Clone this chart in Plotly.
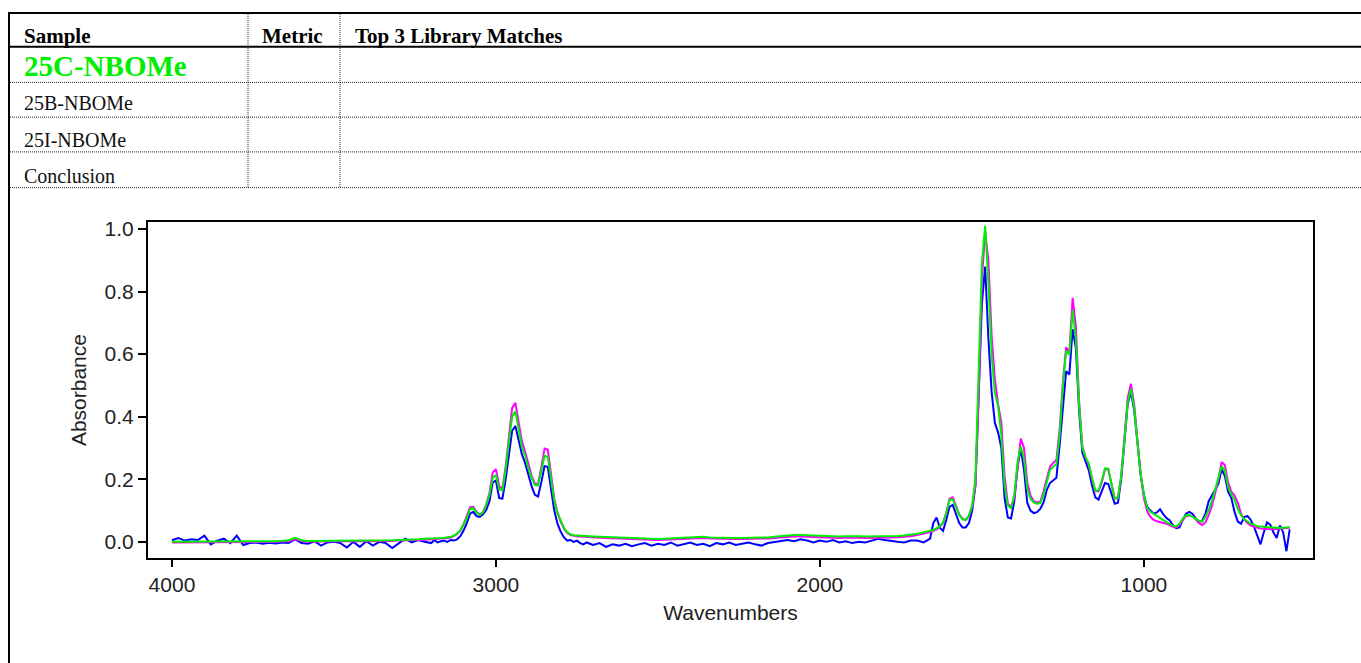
import plotly.graph_objects as go

# ---------------- data ----------------
# wavenumber sampling (cm-1), four segments
wn_a = list(range(4000, 3200, -20))   # 40 points
wn_b = list(range(3200, 2700, -10))   # 50 points
wn_c = list(range(2700, 1700, -20))   # 50 points
wn_d = list(range(1700, 549, -10))    # 116 points
wavenumbers = wn_a + wn_b + wn_c + wn_d

green_a = [0.000, 0.000, 0.001, 0.001, 0.001, 0.001, 0.001, 0.002, 0.002, 0.002,
           0.002, 0.002, 0.002, 0.002, 0.002, 0.002, 0.002, 0.003, 0.005, 0.013,
           0.005, 0.003, 0.003, 0.003, 0.003, 0.003, 0.004, 0.004, 0.004, 0.004,
           0.005, 0.005, 0.005, 0.005, 0.005, 0.006, 0.006, 0.007, 0.008, 0.010]
green_b = [0.010, 0.011, 0.012, 0.012, 0.013, 0.014, 0.016, 0.020, 0.026, 0.036,
           0.054, 0.076, 0.104, 0.108, 0.094, 0.086, 0.094, 0.118, 0.150, 0.205,
           0.212, 0.168, 0.164, 0.230, 0.320, 0.400, 0.417, 0.360, 0.305, 0.275,
           0.235, 0.205, 0.182, 0.180, 0.225, 0.275, 0.272, 0.200, 0.132, 0.092,
           0.066, 0.044, 0.030, 0.024, 0.021, 0.020, 0.019, 0.018, 0.018, 0.017]
green_c = [0.017, 0.016, 0.015, 0.014, 0.013, 0.012, 0.011, 0.010, 0.010, 0.009,
           0.009, 0.010, 0.011, 0.012, 0.014, 0.016, 0.017, 0.016, 0.014, 0.013,
           0.013, 0.012, 0.012, 0.012, 0.012, 0.012, 0.013, 0.014, 0.016, 0.018,
           0.021, 0.022, 0.022, 0.021, 0.020, 0.020, 0.019, 0.018, 0.017, 0.018,
           0.019, 0.018, 0.017, 0.017, 0.018, 0.018, 0.018, 0.019, 0.020, 0.022]
green_d = [0.026, 0.028, 0.030, 0.032, 0.035, 0.038, 0.043, 0.050, 0.062, 0.092,
           0.134, 0.136, 0.112, 0.086, 0.072, 0.070, 0.084, 0.118, 0.200, 0.520,
           0.890, 1.010, 0.830, 0.600, 0.475, 0.435, 0.340, 0.180, 0.116, 0.108,
           0.150, 0.255, 0.305, 0.265, 0.170, 0.138, 0.125, 0.122, 0.124, 0.150,
           0.192, 0.229, 0.240, 0.248, 0.340, 0.500, 0.610, 0.598, 0.740, 0.650,
           0.440, 0.300, 0.270, 0.250, 0.205, 0.163, 0.165, 0.195, 0.235, 0.234,
           0.185, 0.137, 0.142, 0.210, 0.325, 0.445, 0.489, 0.430, 0.318, 0.215,
           0.150, 0.108, 0.096, 0.089, 0.083, 0.076, 0.070, 0.063, 0.057, 0.051,
           0.049, 0.058, 0.074, 0.085, 0.086, 0.081, 0.074, 0.068, 0.064, 0.080,
           0.102, 0.130, 0.165, 0.200, 0.242, 0.228, 0.175, 0.152, 0.134, 0.105,
           0.085, 0.072, 0.065, 0.058, 0.054, 0.050, 0.049, 0.048, 0.046, 0.045,
           0.044, 0.044, 0.044, 0.045, 0.046, 0.047]

magenta_a = [-0.002, -0.002, -0.001, -0.001, -0.001, -0.001, -0.001, 0.000, 0.000, 0.000,
             0.000, 0.000, 0.000, 0.000, 0.000, 0.000, 0.000, 0.001, 0.002, 0.008,
             0.003, 0.001, 0.001, 0.001, 0.001, 0.001, 0.002, 0.002, 0.002, 0.002,
             0.003, 0.003, 0.003, 0.003, 0.003, 0.004, 0.004, 0.005, 0.006, 0.007]
magenta_b = [0.008, 0.009, 0.010, 0.010, 0.011, 0.012, 0.014, 0.018, 0.025, 0.036,
             0.056, 0.080, 0.110, 0.112, 0.096, 0.087, 0.095, 0.120, 0.156, 0.222,
             0.232, 0.178, 0.170, 0.240, 0.340, 0.428, 0.444, 0.385, 0.322, 0.288,
             0.246, 0.212, 0.186, 0.186, 0.238, 0.298, 0.295, 0.215, 0.138, 0.094,
             0.064, 0.042, 0.028, 0.022, 0.019, 0.018, 0.017, 0.016, 0.016, 0.015]
magenta_c = [0.014, 0.013, 0.012, 0.011, 0.010, 0.009, 0.008, 0.007, 0.007, 0.006,
             0.006, 0.007, 0.008, 0.009, 0.011, 0.012, 0.013, 0.012, 0.011, 0.010,
             0.010, 0.009, 0.009, 0.009, 0.009, 0.009, 0.010, 0.011, 0.012, 0.014,
             0.016, 0.017, 0.017, 0.016, 0.015, 0.015, 0.014, 0.013, 0.012, 0.013,
             0.014, 0.013, 0.012, 0.012, 0.013, 0.013, 0.014, 0.015, 0.016, 0.018]
magenta_d = [0.022, 0.024, 0.026, 0.028, 0.031, 0.035, 0.040, 0.048, 0.060, 0.092,
             0.138, 0.142, 0.115, 0.088, 0.074, 0.070, 0.082, 0.112, 0.180, 0.460,
             0.840, 0.990, 0.900, 0.660, 0.520, 0.440, 0.380, 0.210, 0.122, 0.112,
             0.140, 0.240, 0.330, 0.300, 0.190, 0.148, 0.130, 0.126, 0.128, 0.160,
             0.205, 0.240, 0.252, 0.262, 0.360, 0.510, 0.622, 0.605, 0.780, 0.690,
             0.450, 0.305, 0.270, 0.245, 0.200, 0.162, 0.162, 0.190, 0.232, 0.232,
             0.185, 0.138, 0.142, 0.210, 0.335, 0.460, 0.505, 0.440, 0.325, 0.215,
             0.140, 0.098, 0.080, 0.070, 0.066, 0.064, 0.062, 0.058, 0.053, 0.048,
             0.046, 0.054, 0.070, 0.082, 0.085, 0.082, 0.072, 0.060, 0.054, 0.062,
             0.085, 0.115, 0.155, 0.198, 0.255, 0.245, 0.190, 0.160, 0.148, 0.125,
             0.090, 0.070, 0.060, 0.052, 0.048, 0.045, 0.043, 0.042, 0.041, 0.040,
             0.040, 0.041, 0.042, 0.043, 0.044, 0.045]

blue_a = [0.005, 0.012, 0.004, 0.008, 0.006, 0.020, -0.008, 0.004, 0.010, -0.004,
          0.020, -0.010, -0.004, -0.002, -0.006, -0.003, -0.005, -0.002, -0.004, 0.008,
          -0.004, -0.006, 0.002, -0.012, -0.002, 0.000, -0.004, -0.018, 0.000, -0.016,
          0.002, -0.012, 0.000, -0.004, -0.020, -0.004, 0.010, -0.002, 0.006, 0.000]
blue_b = [-0.004, 0.006, -0.002, 0.002, 0.004, 0.000, 0.006, 0.004, 0.008, 0.018,
          0.036, 0.060, 0.090, 0.096, 0.082, 0.080, 0.088, 0.102, 0.130, 0.190,
          0.196, 0.140, 0.138, 0.200, 0.285, 0.355, 0.370, 0.320, 0.280, 0.252,
          0.215, 0.178, 0.150, 0.145, 0.190, 0.242, 0.240, 0.170, 0.100, 0.058,
          0.032, 0.014, 0.004, 0.006, 0.000, 0.004, -0.004, -0.008, -0.002, -0.006]
blue_c = [-0.010, -0.004, -0.016, -0.008, -0.012, -0.006, -0.014, -0.008, -0.004, -0.012,
          -0.006, -0.010, -0.002, -0.012, -0.006, -0.002, -0.010, -0.006, -0.014, -0.004,
          -0.008, -0.002, -0.010, -0.006, -0.002, -0.008, -0.012, -0.004, 0.000, 0.004,
          0.006, 0.002, 0.008, 0.004, -0.002, 0.004, 0.000, 0.006, -0.002, 0.002,
          -0.004, 0.000, -0.002, 0.004, 0.010, 0.006, 0.002, 0.000, -0.002, 0.004]
blue_d = [0.004, 0.000, -0.002, 0.004, 0.010, 0.060, 0.078, 0.045, 0.035, 0.070,
          0.112, 0.118, 0.090, 0.060, 0.046, 0.046, 0.060, 0.100, 0.180, 0.440,
          0.760, 0.880, 0.650, 0.480, 0.380, 0.350, 0.300, 0.140, 0.078, 0.075,
          0.130, 0.240, 0.298, 0.230, 0.125, 0.100, 0.092, 0.095, 0.105, 0.125,
          0.165, 0.188, 0.198, 0.205, 0.310, 0.440, 0.545, 0.535, 0.680, 0.620,
          0.420, 0.285, 0.255, 0.228, 0.180, 0.142, 0.135, 0.160, 0.188, 0.185,
          0.150, 0.122, 0.125, 0.200, 0.320, 0.440, 0.480, 0.420, 0.320, 0.215,
          0.150, 0.112, 0.100, 0.090, 0.094, 0.104, 0.088, 0.076, 0.068, 0.052,
          0.044, 0.046, 0.070, 0.090, 0.096, 0.090, 0.075, 0.064, 0.068, 0.090,
          0.130, 0.150, 0.165, 0.185, 0.232, 0.210, 0.160, 0.140, 0.095, 0.065,
          0.058, 0.080, 0.082, 0.070, 0.048, 0.020, -0.008, 0.030, 0.062, 0.055,
          0.030, 0.012, 0.052, 0.030, -0.030, 0.040]

blue = blue_a + blue_b + blue_c + blue_d
magenta = magenta_a + magenta_b + magenta_c + magenta_d
green = green_a + green_b + green_c + green_d

x_ticks = [4000, 3000, 2000, 1000]
y_ticks = [0.0, 0.2, 0.4, 0.6, 0.8, 1.0]

table_header = ["Sample", "Metric", "Top 3 Library Matches"]
table_rows = ["25C-NBOMe", "25B-NBOMe", "25I-NBOMe", "Conclusion"]

# ---------------- layout helpers ----------------
W, H = 1361, 663
DY = 4  # page offset compensation


def px(x):
    return x / W


def py(y):
    return 1 - (y - DY) / H


fig = go.Figure()
for vals, col in [(blue, "#0000FF"), (magenta, "#FF00FF"), (green, "#00EE00")]:
    fig.add_trace(go.Scatter(x=wavenumbers, y=vals, mode="lines",
                             line=dict(color=col, width=2), showlegend=False,
                             hoverinfo="skip"))

shapes = []
# thick solid lines
shapes.append(dict(type="line", xref="paper", yref="paper", x0=px(8), x1=px(W + 2),
                   y0=py(12), y1=py(12), line=dict(color="black", width=2)))
shapes.append(dict(type="line", xref="paper", yref="paper", x0=px(8), x1=px(W + 2),
                   y0=py(46), y1=py(46), line=dict(color="black", width=2)))
shapes.append(dict(type="line", xref="paper", yref="paper", x0=px(9), x1=px(9),
                   y0=py(11), y1=py(H + 10), line=dict(color="black", width=2)))
# dotted lines
for yy in [82, 117, 152, 188]:
    shapes.append(dict(type="line", xref="paper", yref="paper", x0=px(10), x1=px(W + 2),
                       y0=py(yy), y1=py(yy),
                       line=dict(color="#222222", width=1, dash="1px,1px")))
for xx in [248, 340]:
    shapes.append(dict(type="line", xref="paper", yref="paper", x0=px(xx), x1=px(xx),
                       y0=py(13), y1=py(188),
                       line=dict(color="#222222", width=1, dash="1px,1px")))

annotations = []
serif = "Liberation Serif, Times New Roman, serif"
for label, xx in zip(table_header, [22, 260, 353]):
    annotations.append(dict(text="<b>%s</b>" % label, xref="paper", yref="paper",
                            x=px(xx), y=py(35), xanchor="left", yanchor="middle",
                            showarrow=False,
                            font=dict(family=serif, size=21, color="black")))
row_y = [65, 103, 140, 176]
for i, (label, yy) in enumerate(zip(table_rows, row_y)):
    if i == 0:
        txt = "<b>%s</b>" % label
        fnt = dict(family=serif, size=29, color="#00EE00")
    else:
        txt = label
        fnt = dict(family=serif, size=20, color="#111111")
    annotations.append(dict(text=txt, xref="paper", yref="paper", x=px(22), y=py(yy),
                            xanchor="left", yanchor="middle", showarrow=False, font=fnt))

sans = "Liberation Sans, Arial, sans-serif"
fig.update_layout(
    width=W, height=H, autosize=False,
    margin=dict(l=0, r=0, t=0, b=0),
    paper_bgcolor="white", plot_bgcolor="white",
    shapes=shapes, annotations=annotations,
    xaxis=dict(domain=[px(148), px(1313)], range=[4074, 478],
               tickmode="array", tickvals=x_ticks, ticktext=[str(v) for v in x_ticks],
               ticks="outside", ticklen=7, tickwidth=2, tickcolor="black",
               showline=True, linewidth=2, linecolor="black", mirror=True,
               showgrid=False, zeroline=False,
               tickfont=dict(family=sans, size=21, color="#222222"),
               title=dict(text="Wavenumbers", font=dict(family=sans, size=21, color="#222222"),
                          standoff=10)),
    yaxis=dict(domain=[py(561), py(223)], range=[-0.051, 1.021],
               tickmode="array", tickvals=y_ticks, ticktext=["%.1f" % v for v in y_ticks],
               ticks="outside", ticklen=8, tickwidth=2, tickcolor="black",
               showline=True, linewidth=2, linecolor="black", mirror=True,
               showgrid=False, zeroline=False,
               tickfont=dict(family=sans, size=21, color="#222222"),
               title=dict(text="Absorbance", font=dict(family=sans, size=21, color="#222222"),
                          standoff=12)),
)

fig.write_html("out.html", config={"displayModeBar": False},
               post_script="document.body.style.margin='0px';"
                           "document.body.style.overflow='hidden';")
